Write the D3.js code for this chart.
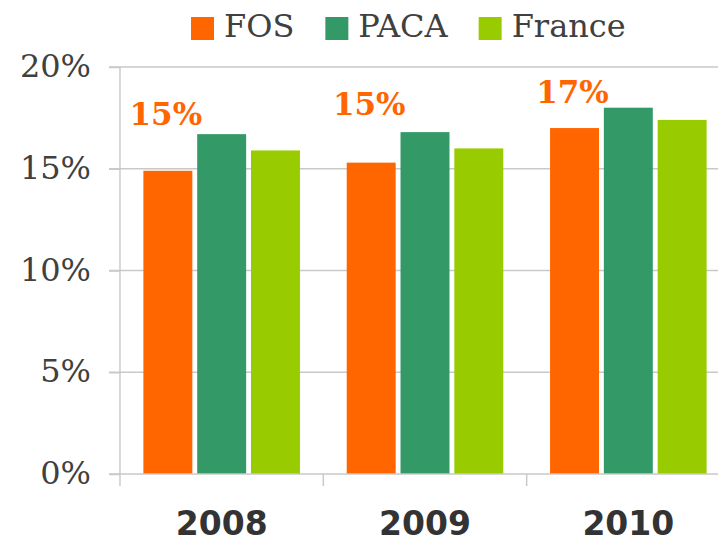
<!DOCTYPE html>
<html>
<head>
<meta charset="utf-8">
<script src="https://cdn.jsdelivr.net/npm/d3@7"></script>
<style>
  body { margin: 0; background: #fff; }
  svg { display: block; }
</style>
</head>
<body>
<script>
// =================== Data ======================
var years = ["2008", "2009", "2010"];
var series = ["FOS", "PACA", "France"];
var fos = [0.149, 0.153, 0.170];
var paca = [0.167, 0.168, 0.180];
var france = [0.159, 0.160, 0.174];
var yTicks = [0, 0.05, 0.10, 0.15, 0.20];

var colors = {FOS: "#ff6600", PACA: "#339966", France: "#99cc00"};
// how far above the FOS bar each label sits (hand placed in the original)
var labelLift = [46, 48, 25];

var serif = "'DejaVu Serif', 'Liberation Serif', serif";

// =================== Chart Prep ======================
var W = 718, H = 543;
var plot = {left: 120, right: 730, top: 67, bottom: 474};

var svg = d3.select("body").append("svg")
    .attr("width", W)
    .attr("height", H);

var x0 = d3.scaleBand()
    .domain(years)
    .range([plot.left, plot.right])
    .paddingInner(0.23)
    .paddingOuter(0.115);

var x1 = d3.scaleBand()
    .domain(series)
    .range([0, x0.bandwidth()])
    .paddingInner(0.09);

var y = d3.scaleLinear()
    .domain([0, 0.20])
    .range([plot.bottom, plot.top]);

var rows = years.map(function(yr, i) {
  return {year: yr, FOS: fos[i], PACA: paca[i], France: france[i]};
});

// =================== Grid & Axes ======================
svg.append("g")
    .selectAll("line")
    .data(yTicks.filter(function(t) { return t > 0; }))
    .enter().append("line")
    .attr("x1", plot.left - 11)
    .attr("x2", W)
    .attr("y1", function(d) { return y(d); })
    .attr("y2", function(d) { return y(d); })
    .attr("stroke", "#c9c9c9")
    .attr("stroke-width", 1.5);

// bars
var groups = svg.append("g")
    .selectAll("g")
    .data(rows)
    .enter().append("g")
    .attr("transform", function(d) { return "translate(" + x0(d.year) + ",0)"; });

groups.selectAll("rect")
    .data(function(d) { return series.map(function(s) { return {key: s, value: d[s]}; }); })
    .enter().append("rect")
    .attr("x", function(d) { return x1(d.key); })
    .attr("width", x1.bandwidth())
    .attr("y", function(d) { return y(d.value); })
    .attr("height", function(d) { return y(0) - y(d.value); })
    .attr("fill", function(d) { return colors[d.key]; });

// y axis
var yAxis = svg.append("g")
    .attr("transform", "translate(" + plot.left + ",0)")
    .call(d3.axisLeft(y).tickValues(yTicks).tickFormat(d3.format(".0%"))
          .tickSize(11).tickPadding(18));
yAxis.select(".domain").attr("stroke", "#bfbfbf").attr("stroke-width", 1.2)
    .attr("d", "M0," + plot.top + "V" + (plot.bottom + 12));
yAxis.selectAll(".tick line").attr("stroke", "#c9c9c9").attr("stroke-width", 1.5);
yAxis.selectAll(".tick text")
    .attr("fill", "#404040")
    .attr("dy", "0.3em")
    .style("font-family", serif)
    .style("font-size", "32px");

// x axis
var xAxis = svg.append("g")
    .attr("transform", "translate(0," + plot.bottom + ")")
    .call(d3.axisBottom(x0).tickSize(0).tickPadding(0));
xAxis.select(".domain").attr("stroke", "#c9c9c9").attr("stroke-width", 1.5)
    .attr("d", "M" + (plot.left - 11) + ",0H" + W);
xAxis.selectAll(".tick text")
    .attr("y", 61)
    .attr("dy", 0)
    .attr("fill", "#333333")
    .style("font-family", "'DejaVu Sans', 'Liberation Sans', sans-serif")
    .style("font-weight", "bold")
    .style("font-size", "33px");

// category separators
svg.append("g")
    .selectAll("line")
    .data(years.slice(1))
    .enter().append("line")
    .attr("x1", function(d) { return x0(d) - x0.step() * x0.paddingInner() / 2; })
    .attr("x2", function(d) { return x0(d) - x0.step() * x0.paddingInner() / 2; })
    .attr("y1", plot.bottom)
    .attr("y2", plot.bottom + 12)
    .attr("stroke", "#c9c9c9")
    .attr("stroke-width", 1.5);

// =================== Labels ======================
svg.append("g")
    .selectAll("text")
    .data(rows)
    .enter().append("text")
    .attr("x", function(d) { return x0(d.year) + x1("FOS") + x1.bandwidth() / 2 - 2; })
    .attr("y", function(d, i) { return y(d.FOS) - labelLift[i]; })
    .attr("text-anchor", "middle")
    .attr("fill", "#ff6600")
    .style("font-family", serif)
    .style("font-weight", "bold")
    .style("font-size", "31px")
    .text(function(d) { return d3.format(".0%")(d.FOS); });

// =================== Legend ======================
var legend = svg.append("g");
var lx = 191;
series.forEach(function(s) {
  legend.append("rect")
      .attr("x", lx).attr("y", 17)
      .attr("width", 23).attr("height", 23)
      .attr("fill", colors[s]);
  var t = legend.append("text")
      .attr("x", lx + 33).attr("y", 37)
      .attr("fill", "#404040")
      .style("font-family", serif)
      .style("font-size", "32px")
      .text(s);
  lx += 33 + t.node().getComputedTextLength() + 31;
});
</script>
</body>
</html>
